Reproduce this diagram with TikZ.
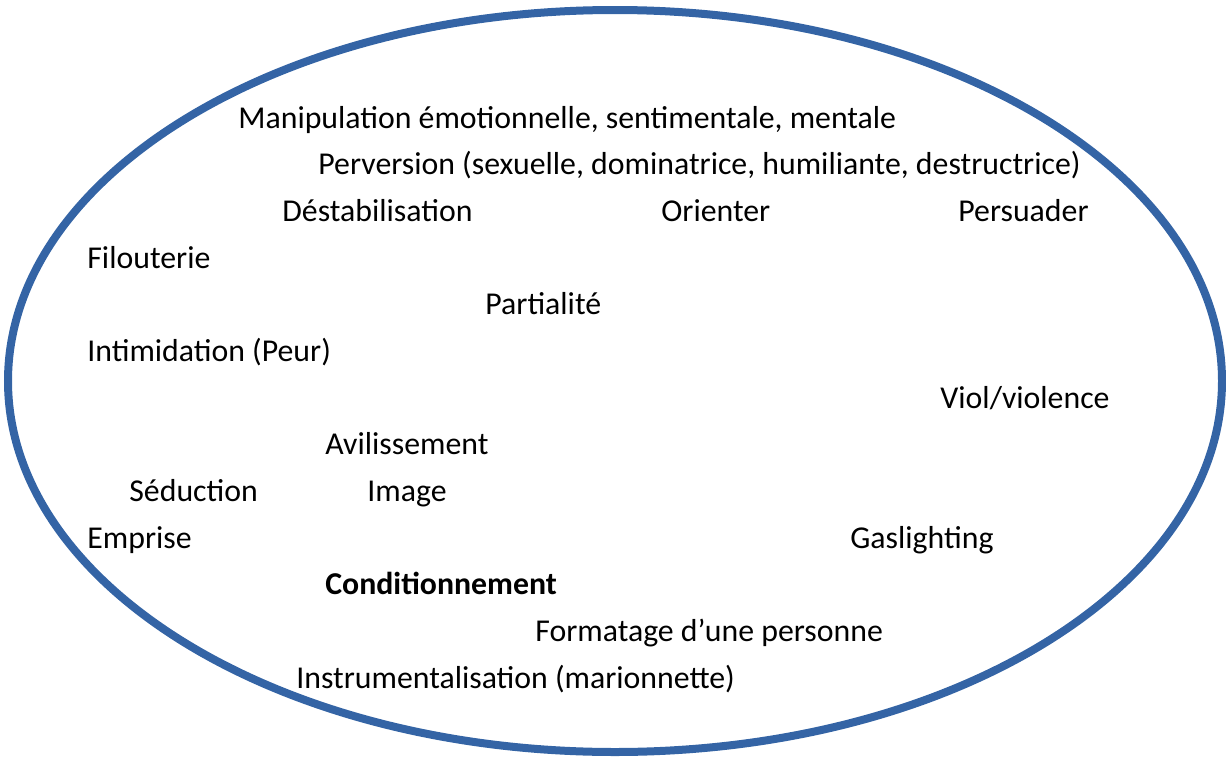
\documentclass[tikz,border=0pt]{standalone}
\usepackage{fontspec}
\setmainfont{Carlito}
\usepackage{tikz}
\definecolor{ringblue}{RGB}{52,100,165}

\begin{document}
\begin{tikzpicture}[x=0.5pt,y=-0.5pt,
  lbl/.style={anchor=base west,inner sep=0pt,font=\fontsize{15.9}{19}\selectfont},
  ring/.style={draw=ringblue,line width=4pt}]
  \useasboundingbox (0,0) rectangle (1226,760);

  %% the big ring round the words
  \draw[ring] (615,381) ellipse [x radius=303.5pt, y radius=185.5pt];

  %% words, left edge and baseline
  \foreach \n/\x/\y/\t in {
    manip/238/128/{Manipulation émotionnelle, sentimentale, mentale},
    perv/318/174/{Perversion (sexuelle, dominatrice, humiliante, destructrice)},
    desta/282/221/{Déstabilisation},
    orient/661/221/{Orienter},
    persu/958/221/{Persuader},
    filou/87/268/{Filouterie},
    parti/485/314/{Partialité},
    intim/87/361/{Intimidation (Peur)},
    viol/940/408/{Viol/violence},
    avil/325/454/{Avilissement},
    sedu/129/501/{Séduction},
    image/367/501/{Image},
    empr/87/548/{Emprise},
    gasl/850/548/{Gaslighting},
    forma/535/641/{Formatage d’une personne},
    instr/296/688/{Instrumentalisation (marionnette)}}
  {
    \node[lbl] (\n) at (\x,\y) {\t};
  }
  \node[lbl,font=\fontsize{15.9}{19}\selectfont\bfseries] (condi) at (325,594) {Conditionnement};

\end{tikzpicture}
\end{document}
